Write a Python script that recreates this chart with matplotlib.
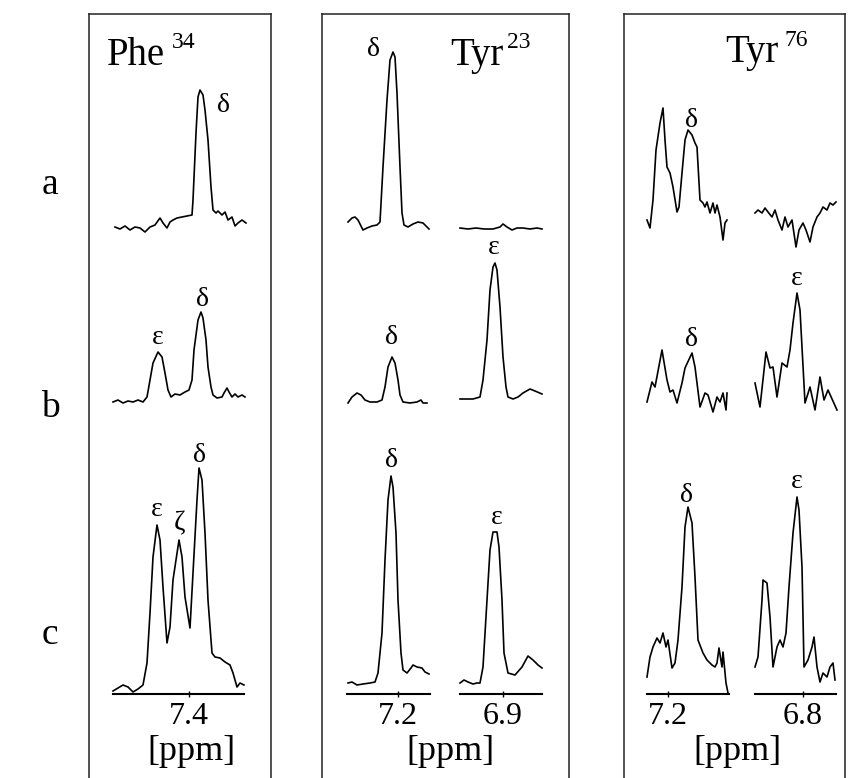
import numpy as np
import matplotlib.pyplot as plt

plt.rcParams['font.family'] = ['Liberation Serif', 'DejaVu Serif']

W, H = 850, 778

# ---- spectra: chemical shift (ppm) and intensity (a.u.) ----
# Phe34, rows a / b / c
phe_a_ppm = [7.474, 7.469, 7.464, 7.459, 7.454, 7.449, 7.444, 7.439, 7.434, 7.429, 7.426, 7.422, 7.419,
             7.416, 7.412, 7.407, 7.402, 7.397, 7.396, 7.393, 7.391, 7.389, 7.386, 7.384, 7.381, 7.378,
             7.376, 7.373, 7.371, 7.367, 7.364, 7.361, 7.357, 7.354, 7.351, 7.347, 7.343]
phe_a_int = [0, -2, 1, -3, 0, -1, -5, 0, 2, 9, 4, -1, 5, 7, 9, 10, 11, 12, 27, 94, 130, 137, 132, 117,
             87, 40, 17, 14, 16, 12, 15, 7, 10, 1, 4, 7, 4]
phe_b_ppm = [7.476, 7.471, 7.466, 7.461, 7.456, 7.451, 7.446, 7.442, 7.439, 7.436, 7.431, 7.427, 7.424,
             7.421, 7.418, 7.414, 7.409, 7.404, 7.400, 7.397, 7.395, 7.391, 7.388, 7.386, 7.383, 7.381,
             7.378, 7.376, 7.372, 7.367, 7.365, 7.362, 7.360, 7.357, 7.354, 7.351, 7.347, 7.344]
phe_b_int = [0, 2, -1, 1, 0, 2, 0, 5, 22, 39, 50, 45, 29, 12, 5, 8, 7, 10, 12, 22, 52, 82, 90, 84, 62,
             35, 15, 7, 4, 5, 9, 14, 10, 5, 8, 5, 7, 5]
phe_c_ppm = [7.476, 7.471, 7.466, 7.461, 7.456, 7.451, 7.446, 7.442, 7.439, 7.436, 7.432, 7.429, 7.426,
             7.422, 7.419, 7.416, 7.410, 7.407, 7.404, 7.399, 7.396, 7.392, 7.390, 7.387, 7.384, 7.381,
             7.377, 7.374, 7.369, 7.364, 7.359, 7.356, 7.352, 7.349, 7.345]
phe_c_int = [-6, -3, 0, -2, -7, -4, 0, 22, 72, 128, 160, 145, 98, 42, 58, 105, 145, 128, 88, 57, 112,
             185, 217, 205, 152, 85, 32, 28, 27, 23, 20, 12, -2, 2, 0]

# Tyr23 delta region
tyr23d_a_ppm = [7.250, 7.246, 7.243, 7.240, 7.235, 7.231, 7.226, 7.221, 7.218, 7.215, 7.211, 7.208,
                7.205, 7.203, 7.201, 7.198, 7.196, 7.194, 7.190, 7.185, 7.180, 7.175, 7.171, 7.169]
tyr23d_a_int = [5, 9, 10, 7, -3, -1, 1, 2, 5, 60, 127, 167, 175, 170, 134, 60, 14, 2, 0, 3, 5, 4, 0, -2]
tyr23d_b_ppm = [7.250, 7.246, 7.241, 7.237, 7.233, 7.228, 7.221, 7.216, 7.213, 7.210, 7.206, 7.203,
                7.200, 7.198, 7.195, 7.188, 7.181, 7.177, 7.175, 7.171]
tyr23d_b_int = [-1, 5, 9, 7, 2, 0, 0, 2, 15, 35, 45, 39, 22, 7, 0, -1, 0, 2, -1, -1]
tyr23d_c_ppm = [7.250, 7.246, 7.241, 7.235, 7.228, 7.223, 7.220, 7.216, 7.213, 7.210, 7.207, 7.205,
                7.202, 7.200, 7.197, 7.195, 7.191, 7.187, 7.185, 7.181, 7.176, 7.173, 7.169]
tyr23d_c_int = [2, 3, 0, 1, 2, 3, 12, 52, 125, 185, 209, 198, 152, 85, 32, 15, 12, 17, 20, 18, 17, 13, 11]

# Tyr23 epsilon region
tyr23e_a_ppm = [6.943, 6.935, 6.927, 6.919, 6.913, 6.910, 6.903, 6.900, 6.896, 6.891, 6.886, 6.880,
                6.873, 6.866, 6.861]
tyr23e_a_int = [-1, -2, -1, -2, -2, -2, 0, 3, 0, -3, -1, -1, -2, -1, -2]
tyr23e_b_ppm = [6.943, 6.936, 6.930, 6.923, 6.920, 6.916, 6.913, 6.910, 6.908, 6.906, 6.903, 6.900,
                6.897, 6.895, 6.890, 6.885, 6.880, 6.873, 6.868, 6.861]
tyr23e_b_int = [3, 3, 3, 5, 22, 62, 112, 135, 139, 132, 95, 45, 15, 5, 3, 5, 9, 13, 11, 8]
tyr23e_c_ppm = [6.943, 6.939, 6.935, 6.930, 6.926, 6.923, 6.920, 6.916, 6.913, 6.910, 6.906, 6.904,
                6.901, 6.899, 6.895, 6.888, 6.881, 6.875, 6.870, 6.865, 6.861]
tyr23e_c_int = [2, 5, 3, 1, 2, 2, 18, 85, 135, 153, 153, 138, 85, 32, 12, 10, 18, 29, 25, 20, 17]

# Tyr76 delta region
tyr76d_a_ppm = [7.221, 7.218, 7.215, 7.212, 7.208, 7.205, 7.203, 7.201, 7.198, 7.195, 7.191, 7.189,
                7.186, 7.183, 7.180, 7.176, 7.173, 7.171, 7.168, 7.165, 7.163, 7.161, 7.158, 7.155,
                7.153, 7.151, 7.148, 7.145, 7.143, 7.141]
tyr76d_a_int = [7, -1, 27, 77, 104, 119, 87, 60, 54, 40, 15, 20, 54, 87, 97, 92, 84, 80, 27, 24, 20,
                25, 14, 24, 14, 22, 10, -13, 4, 7]
tyr76d_b_ppm = [7.221, 7.216, 7.213, 7.206, 7.201, 7.198, 7.195, 7.191, 7.186, 7.183, 7.176, 7.173,
                7.168, 7.163, 7.160, 7.155, 7.151, 7.148, 7.145, 7.142, 7.141]
tyr76d_b_int = [0, 20, 15, 52, 22, 10, 12, -1, 19, 34, 49, 35, -5, 9, 7, -10, 5, 0, 9, -8, 9]
tyr76d_c_ppm = [7.221, 7.218, 7.215, 7.211, 7.208, 7.205, 7.202, 7.200, 7.196, 7.193, 7.190, 7.186,
                7.183, 7.180, 7.176, 7.173, 7.170, 7.165, 7.161, 7.156, 7.153, 7.151, 7.149, 7.146,
                7.145, 7.142, 7.140]
tyr76d_c_int = [8, 28, 38, 47, 42, 52, 38, 45, 17, 22, 45, 98, 158, 178, 162, 108, 45, 32, 25, 20, 18,
                22, 37, 18, 33, 2, -8]

# Tyr76 epsilon region
tyr76e_a_ppm = [6.848, 6.845, 6.841, 6.838, 6.835, 6.831, 6.828, 6.825, 6.821, 6.818, 6.815, 6.811,
                6.807, 6.804, 6.800, 6.797, 6.793, 6.790, 6.786, 6.783, 6.780, 6.776, 6.773, 6.770, 6.767]
tyr76e_a_int = [14, 17, 14, 19, 15, 10, 17, 7, -3, 10, 0, 7, -20, -3, 4, -3, -15, 0, 10, 14, 20, 17,
                24, 22, 25]
tyr76e_b_ppm = [6.848, 6.843, 6.837, 6.833, 6.830, 6.826, 6.821, 6.816, 6.813, 6.810, 6.806, 6.803,
                6.798, 6.793, 6.788, 6.783, 6.779, 6.775, 6.766]
tyr76e_b_int = [19, -5, 50, 34, 35, 5, 39, 35, 52, 79, 109, 92, -1, 15, -8, 25, 2, 12, -8]
tyr76e_c_ppm = [6.848, 6.845, 6.841, 6.840, 6.836, 6.833, 6.830, 6.826, 6.823, 6.820, 6.817, 6.814,
                6.810, 6.806, 6.804, 6.801, 6.799, 6.795, 6.791, 6.789, 6.786, 6.783, 6.780, 6.776,
                6.773, 6.770, 6.768]
tyr76e_c_int = [18, 28, 85, 105, 102, 68, 18, 38, 45, 38, 52, 98, 152, 188, 175, 118, 18, 25, 38, 48,
                18, 3, 12, 8, 18, 22, 5]

row_names = ['a', 'b', 'c']
tick_labels = ['7.4', '7.2', '6.9', '7.2', '6.8']
titles = [('Phe', '34'), ('Tyr', '23'), ('Tyr', '76')]

# sub-plot columns: tick value, pixel of tick, pixel extent of axis line, spectra for rows a-c
columns = [
    (7.4, 189, 113, 244, [(phe_a_ppm, phe_a_int), (phe_b_ppm, phe_b_int), (phe_c_ppm, phe_c_int)]),
    (7.2, 398, 347, 430, [(tyr23d_a_ppm, tyr23d_a_int), (tyr23d_b_ppm, tyr23d_b_int), (tyr23d_c_ppm, tyr23d_c_int)]),
    (6.9, 503, 460, 542, [(tyr23e_a_ppm, tyr23e_a_int), (tyr23e_b_ppm, tyr23e_b_int), (tyr23e_c_ppm, tyr23e_c_int)]),
    (7.2, 668, 647, 729, [(tyr76d_a_ppm, tyr76d_a_int), (tyr76d_b_ppm, tyr76d_b_int), (tyr76d_c_ppm, tyr76d_c_int)]),
    (6.8, 803, 755, 836, [(tyr76e_a_ppm, tyr76e_a_int), (tyr76e_b_ppm, tyr76e_b_int), (tyr76e_c_ppm, tyr76e_c_int)]),
]

# peak labels: column, row, symbol, ppm of peak, offset in pixels (dx, dy of glyph baseline)
peak_labels = [
    (0, 0, 'δ', 7.389, 23, -22), (0, 1, 'ε', 7.431, 0, 8), (0, 1, 'δ', 7.388, 1, 6),
    (0, 2, 'ε', 7.432, 0, 9), (0, 2, 'ζ', 7.410, 0, 10), (0, 2, 'δ', 7.390, 0, 6),
    (1, 0, 'δ', 7.205, -20, -4), (1, 1, 'δ', 7.206, 0, 13), (1, 2, 'δ', 7.207, 0, 9),
    (2, 1, 'ε', 6.908, -1, 9), (2, 2, 'ε', 6.906, 0, 8),
    (3, 0, 'δ', 7.180, 3, 3), (3, 1, 'δ', 7.176, 0, 7), (3, 2, 'δ', 7.180, -2, 5),
    (4, 1, 'ε', 6.806, 0, 8), (4, 2, 'ε', 6.806, 0, 9),
]

PX_PER_PPM = 1000.0
baselines = [227, 402, 685]
axis_y = 694

fig = plt.figure(figsize=(W / 100, H / 100), dpi=100)


def px_axes(x0, x1, y0, y1):
    return fig.add_axes([x0 / W, 1 - y1 / H, (x1 - x0) / W, (y1 - y0) / H])


# panel frames
for x0, x1 in [(89, 271), (322, 569), (624, 845)]:
    fr = px_axes(x0, x1, 14, 820)
    fr.set_facecolor('none')
    fr.set_xticks([])
    fr.set_yticks([])
    fr.spines['bottom'].set_visible(False)
    for s in ['top', 'left', 'right']:
        fr.spines[s].set_linewidth(1.1)
        fr.spines[s].set_color('#222222')

axes = {}
for ci, (tv, tpx, a, b, spectra) in enumerate(columns):
    for ri, base in enumerate(baselines):
        lo = axis_y - base if ri == 2 else 40
        hi = 240 if ri == 2 else 200
        ax = px_axes(a - 4, b + 4, base - hi, base + lo)
        ax.set_facecolor('none')
        ax.set_xlim(tv + (tpx - (a - 4)) / PX_PER_PPM, tv - ((b + 4) - tpx) / PX_PER_PPM)
        ax.set_ylim(-lo, hi)
        ppm, inten = spectra[ri]
        ax.plot(ppm, inten, color='black', lw=1.2, clip_on=False)
        for s in ['top', 'left', 'right']:
            ax.spines[s].set_visible(False)
        ax.set_yticks([])
        if ri == 2:
            ax.spines['bottom'].set_bounds(tv + (tpx - a) / PX_PER_PPM, tv - (b - tpx) / PX_PER_PPM)
            ax.spines['bottom'].set_linewidth(1.5)
            ax.set_xticks([tv])
            ax.set_xticklabels([tick_labels[ci]])
            ax.tick_params(axis='x', direction='inout', length=5, width=1, labelsize=23, pad=3)
        else:
            ax.spines['bottom'].set_visible(False)
            ax.set_xticks([])
        axes[(ci, ri)] = ax

for ci, ri, sym, pk, dx, dy in peak_labels:
    ppm, inten = columns[ci][4][ri]
    yk = np.interp(pk, ppm[::-1], inten[::-1])
    axes[(ci, ri)].annotate(sym, (pk, yk), xytext=(dx, dy), textcoords='offset pixels',
                            ha='center', va='baseline', fontsize=20, annotation_clip=False)

# panel titles with superscript residue numbers
for (name, num), (xm, ym, xs, ys) in zip(titles, [(107, 65, 172, 48), (450, 65, 507, 48), (725, 62, 785, 46)]):
    fig.text(xm / W, 1 - ym / H, name, fontsize=28, va='baseline', ha='left')
    fig.text(xs / W, 1 - ys / H, num, fontsize=17, va='baseline', ha='left')

for name, y in zip(row_names, [185, 408, 635]):
    fig.text(50 / W, 1 - y / H, name, fontsize=27, ha='center', va='center')

for x in [191, 450, 737]:
    fig.text(x / W, 1 - 752 / H, '[ppm]', fontsize=26, ha='center', va='center')

fig.savefig('out.png', dpi=100)
